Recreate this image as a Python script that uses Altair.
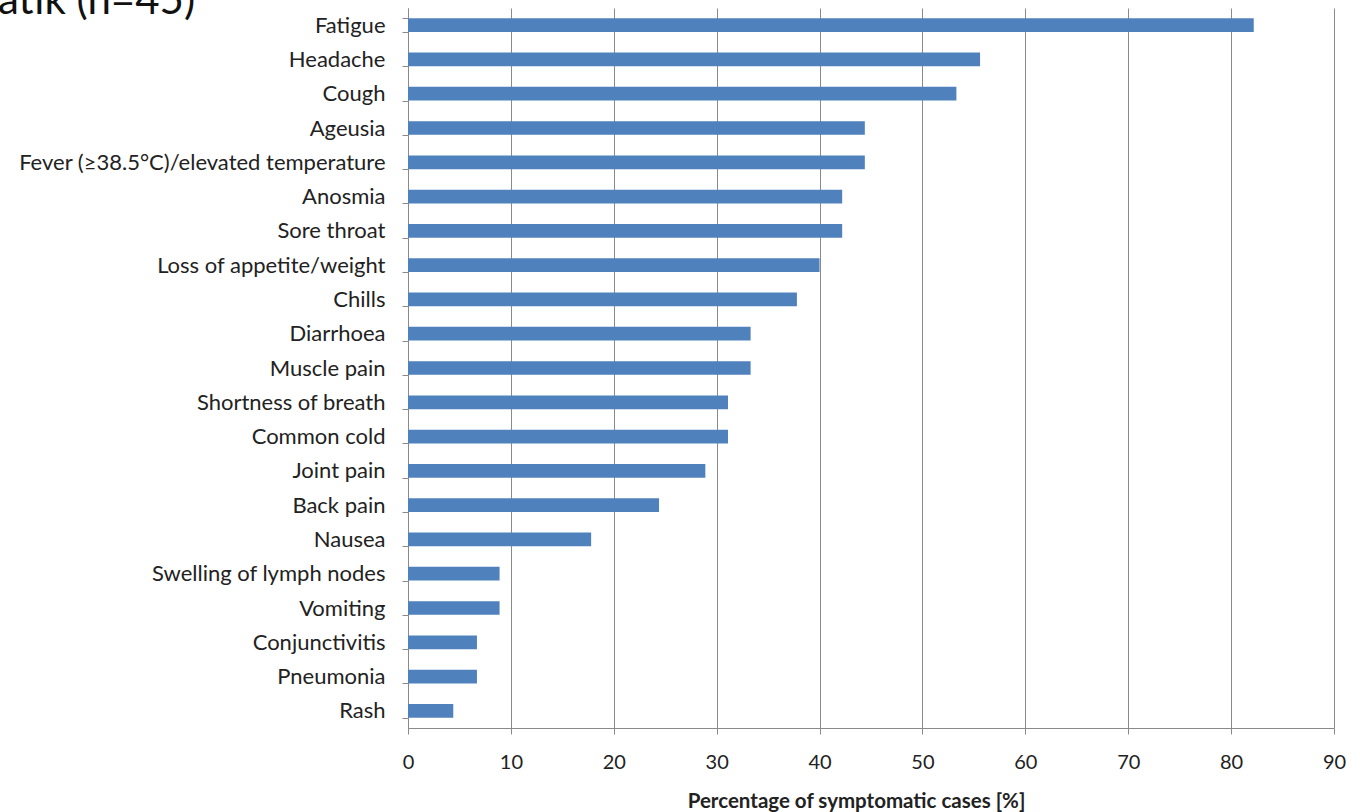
import altair as alt
import pandas as pd

symptoms = ["Fatigue", "Headache", "Cough", "Ageusia", "Fever (≥38.5°C)/elevated temperature",
            "Anosmia", "Sore throat", "Loss of appetite/weight", "Chills", "Diarrhoea",
            "Muscle pain", "Shortness of breath", "Common cold", "Joint pain", "Back pain",
            "Nausea", "Swelling of lymph nodes", "Vomiting", "Conjunctivitis", "Pneumonia", "Rash"]
percent = [82.2, 55.6, 53.3, 44.4, 44.4, 42.2, 42.2, 40.0, 37.8, 33.3,
           33.3, 31.1, 31.1, 28.9, 24.4, 17.8, 8.9, 8.9, 6.7, 6.7, 4.4]
x_ticks = [0, 10, 20, 30, 40, 50, 60, 70, 80, 90]
title_text = ["atik (n=45)"]

df = pd.DataFrame({"symptom": symptoms, "pct": percent})
FONT = "Lato"

bars = alt.Chart(df).mark_bar(color="#4F81BD").encode(
    x=alt.X("pct:Q",
            scale=alt.Scale(domain=[0, 90], nice=False, zero=True),
            axis=alt.Axis(values=x_ticks, title="Percentage of symptomatic cases [%]",
                          grid=True, gridColor="#8a8a8a", gridWidth=1,
                          domainColor="#8a8a8a", tickColor="#8a8a8a", tickSize=6,
                          labelFont=FONT, labelFontSize=20, labelColor="#222222",
                          labelPadding=18, labelFontWeight="normal", labelFlush=False,
                          titleFont=FONT, titleFontSize=20.5, titleFontWeight="bold",
                          titleColor="#222222", titleX=448, titleY=79,
                          titleBaseline="alphabetic", titleAnchor="middle")),
    y=alt.Y("symptom:N", sort=symptoms,
            scale=alt.Scale(paddingInner=0.6, paddingOuter=0.3),
            axis=alt.Axis(title=None, grid=False, tickBand="extent",
                          domainColor="#8a8a8a", tickColor="#8a8a8a", tickSize=6,
                          labelFont=FONT, labelFontSize=22, labelColor="#222222",
                          labelPadding=17, labelLimit=500)),
)

title_layer = alt.Chart(pd.DataFrame({"t": title_text})).mark_text(
    font=FONT, fontSize=42, align="left", baseline="alphabetic", color="#111111"
).encode(text="t:N", x=alt.value(-410), y=alt.value(6))

chart = alt.layer(bars, title_layer).properties(
    width=926, height=720,
    autosize=alt.AutoSizeParams(type="none"),
    padding={"left": 408, "top": 8, "right": 26, "bottom": 84},
).configure_view(stroke=None)

chart.save("out.html", embed_options={"renderer": "svg", "actions": False})
